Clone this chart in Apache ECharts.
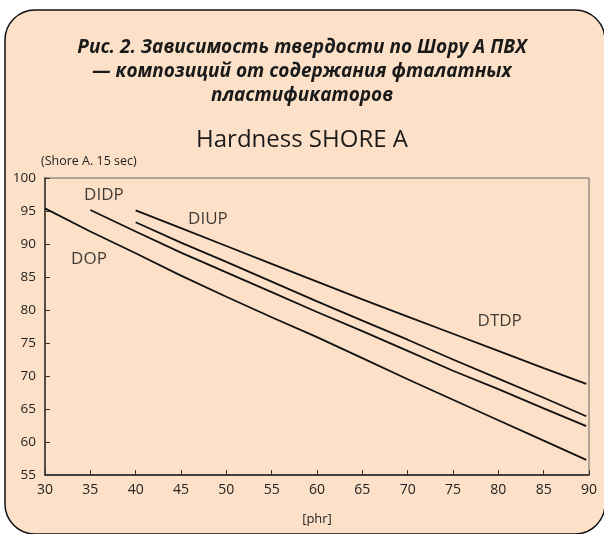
<!DOCTYPE html>
<html>
<head>
<meta charset="utf-8">
<script src="https://cdn.jsdelivr.net/npm/echarts@6/dist/echarts.min.js"></script>
<style>
html,body{margin:0;padding:0;background:#ffffff;}
#chart{width:604px;height:534px;}
</style>
</head>
<body>
<div id="chart"></div>
<script>
// ---- data ----
const titleLines = ['Рис. 2. Зависимость твердости по Шору А ПВХ', '— композиций от содержания фталатных', 'пластификаторов'];
const chartTitle = 'Hardness SHORE A';
const yAxisName = '(Shore A. 15 sec)';
const xAxisName = '[phr]';

const dopX  = [30, 35, 40, 45, 50, 55, 60, 65, 70, 75, 80, 85, 89.7];
const dopY  = [95.4, 91.9, 88.6, 85.2, 82.0, 78.9, 75.9, 72.7, 69.5, 66.4, 63.3, 60.2, 57.3];
const didpX = [35, 40, 45, 50, 55, 60, 65, 70, 75, 80, 85, 89.7];
const didpY = [95.15, 91.9, 88.7, 85.7, 82.7, 79.7, 76.8, 73.8, 70.8, 68.0, 65.1, 62.4];
const diupX = [40, 45, 50, 55, 60, 65, 70, 75, 80, 85, 89.7];
const diupY = [93.3, 90.2, 87.3, 84.3, 81.3, 78.4, 75.5, 72.5, 69.6, 66.7, 63.9];
const dtdpX = [40, 45, 50, 55, 60, 65, 70, 75, 80, 85, 89.7];
const dtdpY = [95.1, 92.4, 89.7, 87.0, 84.3, 81.6, 79.0, 76.4, 73.8, 71.2, 68.8];

const labelNames = ['DOP', 'DIDP', 'DIUP', 'DTDP'];
const labelX     = [34.85, 36.5, 47.97, 80.15];
const labelY     = [87.7, 97.4, 93.8, 78.3];

const xMin = 30, xMax = 90, xStep = 5;
const yMin = 55, yMax = 100, yStep = 5;

function pairs(xs, ys){ return xs.map((x,i)=>[x, ys[i]]); }

const lineStyle = {color:'#111', width:1.8};
function lineSeries(name, xs, ys){
  return {name, type:'line', data:pairs(xs, ys), symbol:'none', smooth:false,
          lineStyle, silent:true, z:3};
}

const chart = echarts.init(document.getElementById('chart'), null, {renderer:'canvas'});
const option = {
  backgroundColor:'#ffffff',
  animation:false,
  graphic:[{
    type:'rect', z:-10, silent:true,
    shape:{x:5, y:10, width:600, height:524, r:30},
    style:{fill:'#FCE1C8', stroke:'#111', lineWidth:1.5}
  }],
  title:[
    {text:titleLines.join('\n'), left:'center', top:31,
     textStyle:{fontFamily:'Open Sans', fontSize:19, fontWeight:'bold', fontStyle:'italic', color:'#1a1a1a', lineHeight:24}},
    {text:chartTitle, left:'center', top:120,
     textStyle:{fontFamily:'Open Sans', fontSize:24, fontWeight:'normal', color:'#1a1a1a', lineHeight:30}}
  ],
  grid:{left:45, right:15, top:178, bottom:59, show:true, borderColor:'#666', borderWidth:1, backgroundColor:'transparent'},
  xAxis:{
    type:'value', min:xMin, max:xMax, interval:xStep,
    name:xAxisName, nameLocation:'middle', nameGap:38,
    nameTextStyle:{fontFamily:'Open Sans', fontSize:13, color:'#222'},
    axisLine:{show:true, lineStyle:{color:'#222', width:1.5}},
    axisTick:{show:true, inside:true, length:5, lineStyle:{color:'#333', width:1}},
    axisLabel:{fontFamily:'Open Sans', fontSize:14, color:'#222', margin:8},
    splitLine:{show:false}
  },
  yAxis:{
    type:'value', min:yMin, max:yMax, interval:yStep,
    name:yAxisName, nameLocation:'end', nameGap:10,
    nameTextStyle:{fontFamily:'Open Sans', fontSize:12.5, color:'#222', align:'left', padding:[0,0,0,-4]},
    axisLine:{show:true, lineStyle:{color:'#4a4440', width:1.8}},
    axisTick:{show:true, inside:true, length:5, lineStyle:{color:'#333', width:1}},
    axisLabel:{fontFamily:'Open Sans', fontSize:13.5, color:'#222', margin:9},
    splitLine:{show:false}
  },
  series:[
    lineSeries('DOP', dopX, dopY),
    lineSeries('DIDP', didpX, didpY),
    lineSeries('DIUP', diupX, diupY),
    lineSeries('DTDP', dtdpX, dtdpY),
    {
      type:'scatter', silent:true, symbolSize:1, itemStyle:{color:'transparent'},
      data:labelNames.map((n,i)=>[labelX[i], labelY[i], n]),
      label:{show:true, position:'inside', formatter:p=>p.value[2],
             fontFamily:'Open Sans', fontSize:17, color:'#111'},
      z:4
    }
  ]
};
chart.setOption(option);
</script>
</body>
</html>
